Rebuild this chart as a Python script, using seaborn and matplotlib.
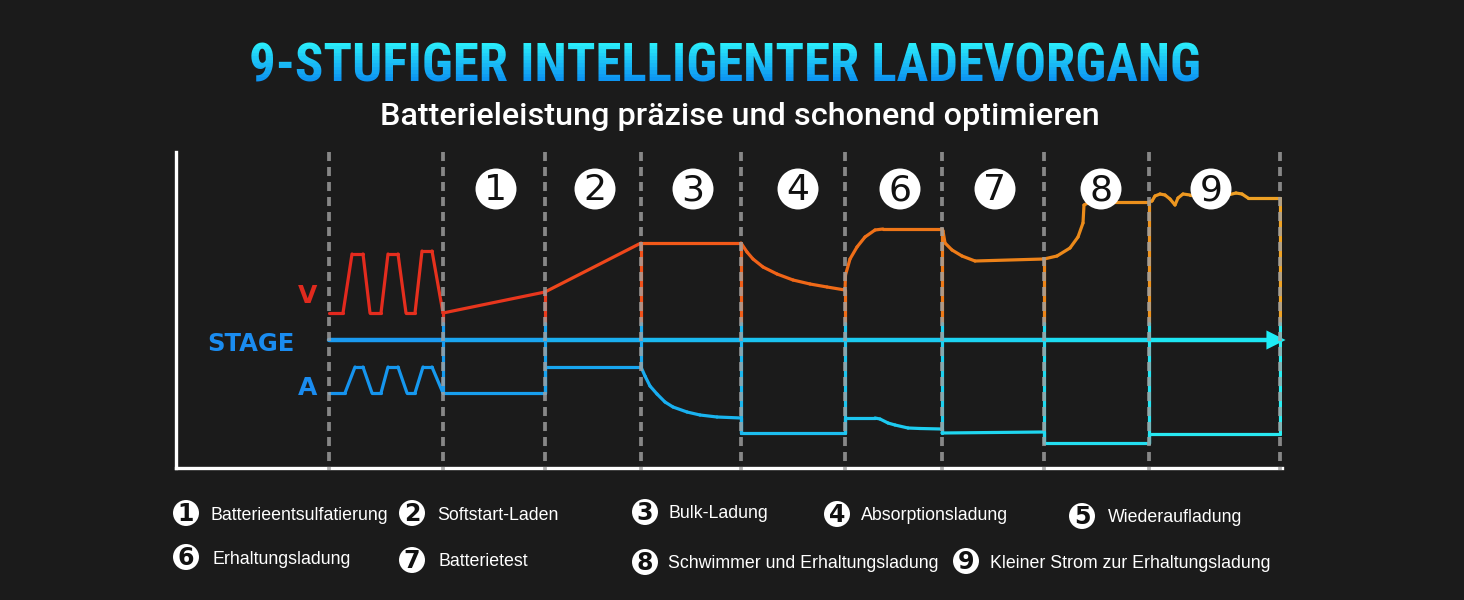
"""
9-stage charging curve (voltage / current per stage)
"""
import numpy as np
import pandas as pd
import matplotlib
matplotlib.use("Agg")
import matplotlib.pyplot as plt
import seaborn as sns
from matplotlib.colors import LinearSegmentedColormap
from matplotlib.transforms import Bbox
from matplotlib import font_manager

# ---- data (time axis read in image pixels, levels in pixels from top) ----
stage_bounds = [329, 443, 545, 641, 741, 845, 942, 1044, 1149, 1280]
stage_marks = ["1", "2", "3", "4", "6", "7", "8", "9"]

volt_x = [329, 343, 352, 363, 370, 381, 388, 398, 406, 415, 422, 432, 443,
          545, 641, 741,
          747, 753, 763, 777, 793, 810, 827, 845,
          845.5, 850, 857, 865, 875, 883, 942,
          943, 945, 952, 962, 975, 1044,
          1057, 1070, 1078, 1083, 1084, 1090, 1149,
          1152, 1155, 1160, 1165, 1170, 1175, 1178, 1183, 1190,
          1228, 1236, 1242, 1248, 1280]
volt_y = [313, 313, 254, 254, 313, 313, 254, 254, 313, 313, 251, 251, 313,
          292, 243, 243,
          252, 259, 267, 274, 280, 284, 287, 290,
          275, 259, 247, 237, 230, 229, 229,
          231, 243, 250, 256, 261, 259,
          256, 248, 237, 223, 205, 202, 202,
          201, 196, 194, 195, 199, 205, 198, 194, 195,
          195, 193, 194, 198, 198]

amp_x = [329, 345, 355, 363, 372, 381, 388, 398, 407, 415, 423, 432, 443,
         545, 545, 641, 645, 650, 657, 665, 673, 687, 700, 717,
         741, 741, 845, 845, 875, 880, 888, 895, 908, 920, 942,
         942, 1044, 1044, 1149, 1149, 1280]
amp_y = [393, 393, 367, 367, 393, 393, 367, 367, 393, 393, 367, 367, 393,
         393, 367, 367, 376, 386, 394, 402, 407, 412, 415, 417,
         418, 433, 433, 418, 418, 419, 423, 425, 428, 428.5, 429,
         433, 432, 443, 443, 434, 434]

stage_level = 340
split_level = 323

title = "9-STUFIGER INTELLIGENTER LADEVORGANG"
subtitle = "Batterieleistung präzise und schonend optimieren"

legend_nums = ["1", "2", "3", "4", "5", "6", "7", "8", "9"]
legend_labels = ["Batterieentsulfatierung", "Softstart-Laden", "Bulk-Ladung",
                 "Absorptionsladung", "Wiederaufladung", "Erhaltungsladung",
                 "Batterietest", "Schwimmer und Erhaltungsladung",
                 "Kleiner Strom zur Erhaltungsladung"]

# ---- layout ----
badge_x = [496, 595, 693, 798, 900, 995, 1101, 1211]
badge_y = 189
legend_cx = [186, 412, 645, 837, 1082, 186, 412, 645, 966]
legend_cy = [513, 513, 512, 514, 516, 557, 560, 562, 561]
legend_tx = [210, 437, 668, 861, 1108, 213, 439, 668, 990]

bg = "#1b1b1b"
sns.set_theme(style="dark", rc={
    "axes.facecolor": bg, "figure.facecolor": bg, "savefig.facecolor": bg,
    "lines.scale_dashes": False,
})
plt.rcParams["font.family"] = ["DejaVu Sans"]

available = {f.name for f in font_manager.fontManager.ttflist}
title_family = "DejaVu Sans"
for cand in ["Liberation Sans Narrow", "DejaVu Sans Condensed", "Roboto Condensed"]:
    if cand in available:
        title_family = cand
        break

volt_cmap = LinearSegmentedColormap.from_list("volt", [
    (0.0, "#e3281e"), (0.22, "#e93a1d"), (0.33, "#f4521a"), (0.5, "#f06818"),
    (0.65, "#ee7a18"), (0.8, "#ec8c1a"), (1.0, "#eea326")])
amp_cmap = LinearSegmentedColormap.from_list("amp", [
    (0.0, "#1592ee"), (0.3, "#18a8f0"), (0.5, "#1cc0f0"), (0.7, "#1fd6f0"),
    (1.0, "#2aeef2")])
stage_cmap = LinearSegmentedColormap.from_list("stage", [
    (0.0, "#1a94f0"), (0.5, "#1ac4f0"), (1.0, "#1eecf4")])
x_lo, x_hi = stage_bounds[0], stage_bounds[-1]


def seg_frame(xs, ys):
    """one row pair per segment so every segment can carry its own colour"""
    rows = []
    for i in range(len(xs) - 1):
        mid = (xs[i] + xs[i + 1]) / 2
        rows.append((xs[i], ys[i], i, mid))
        rows.append((xs[i + 1], ys[i + 1], i, mid))
    return pd.DataFrame(rows, columns=["x", "y", "seg", "pos"])


def grad_line(ax, xs, ys, cmap, lw, z):
    sns.lineplot(data=seg_frame(xs, ys), x="x", y="y", hue="pos", units="seg",
                 palette=cmap, hue_norm=(x_lo, x_hi), estimator=None, sort=False,
                 legend=False, lw=lw, solid_capstyle="round",
                 solid_joinstyle="round", zorder=z, ax=ax)


fig = plt.figure(figsize=(14.64, 6.0), dpi=100)
frame = fig.add_axes([0, 0, 1, 1])
frame.set_xlim(0, 1464)
frame.set_ylim(600, 0)
frame.axis("off")

ax = fig.add_axes([176 / 1464, 132 / 600, 1106 / 1464, 316 / 600])
ax.set_facecolor("none")

# curves
grad_line(ax, volt_x, volt_y, volt_cmap, 2.3, 3)
grad_line(ax, amp_x, amp_y, amp_cmap, 2.3, 3)
grad_line(ax, stage_bounds, [stage_level] * len(stage_bounds), stage_cmap, 3.2, 3)

# vertical connectors at each stage change
vx, vy = np.array(volt_x), np.array(volt_y)
axx, ayy = np.array(amp_x), np.array(amp_y)
for b in stage_bounds[1:]:
    t = (b - x_lo) / (x_hi - x_lo)
    top = vy[vx == b].min()
    bot = ayy[axx == b].max()
    ax.plot([b, b], [top, split_level], color=volt_cmap(t), lw=2.3, zorder=3)
    ax.plot([b, b], [split_level, bot], color=amp_cmap(t), lw=2.3, zorder=3)

sns.scatterplot(x=[1276], y=[stage_level], marker=">", s=190, color="#1eecf4",
                edgecolor="none", zorder=4, ax=ax, clip_on=False)

# dashed stage separators
ax.vlines(stage_bounds, 152, 470, colors="#a0a0a0", alpha=0.82, lw=2.7,
          linestyles=(0, (6.5, 4.3)), zorder=4, clip_on=False)

# stage badges
sns.scatterplot(x=badge_x, y=[badge_y] * len(badge_x), s=870, color="white",
                edgecolor="none", zorder=5, ax=ax)
for bx, m in zip(badge_x, stage_marks):
    ax.text(bx, badge_y + 1, m, ha="center", va="center", fontsize=26,
            color="#111111", zorder=6)

ax.text(295, 344, "STAGE", ha="right", va="center", fontsize=17.5, fontweight="bold",
        color="#1a8cf0")
ax.text(308, 296, "V", ha="center", va="center", fontsize=18, fontweight="bold",
        color="#e02a1e")
ax.text(308, 388, "A", ha="center", va="center", fontsize=18, fontweight="bold",
        color="#1a8cf0")

ax.set_xlim(176, 1282)
ax.set_ylim(468, 152)
ax.set_xticks([])
ax.set_yticks([])
ax.set_xlabel("")
ax.set_ylabel("")
ax.spines["top"].set_visible(False)
ax.spines["right"].set_visible(False)
for side in ("left", "bottom"):
    ax.spines[side].set_visible(True)
    ax.spines[side].set_color("white")
    ax.spines[side].set_linewidth(2.4)

# title with vertical gradient (stacked clipped copies)
fig.canvas.draw()
renderer = fig.canvas.get_renderer()
probe = frame.text(725, 82, title, fontsize=40, fontweight="bold",
                   family=[title_family, "DejaVu Sans"], ha="center", va="baseline")
tw = probe.get_window_extent(renderer).width
title_fs = 40 * 950 / tw
probe.remove()

n_band = 12
band_cols = sns.blend_palette(["#2aecfa", "#0a8cf0"], n_colors=n_band)
edges = np.linspace(42, 84, n_band + 1)
for k, c in enumerate(band_cols):
    y0 = 0 if k == 0 else edges[k]
    y1 = 100 if k == n_band - 1 else edges[k + 1]
    t = frame.text(725, 82, title, fontsize=title_fs, fontweight="bold",
                   family=[title_family, "DejaVu Sans"], color=c,
                   ha="center", va="baseline")
    t.set_clip_path(None)
    t.set_clip_box(Bbox.from_extents(0, 600 - y1, 1464, 600 - y0))
    t.set_clip_on(True)

sub = frame.text(740, 125, subtitle, fontsize=22, fontweight="medium",
                 family=["Roboto", "DejaVu Sans"], color="white",
                 ha="center", va="baseline")
sw = sub.get_window_extent(renderer).width
sub.set_fontsize(22 * 720 / sw)

# legend
sns.scatterplot(x=legend_cx, y=legend_cy, s=350, color="white", edgecolor="none",
                ax=frame, zorder=3)
for cx, cy, tx, num, lab in zip(legend_cx, legend_cy, legend_tx,
                                legend_nums, legend_labels):
    frame.text(cx, cy + 1, num, ha="center", va="center", fontsize=17,
               fontweight="bold", color="#111111", zorder=4)
    frame.text(tx, cy + 6.5, lab, ha="left", va="baseline", fontsize=12.8,
               family=["Liberation Sans", "DejaVu Sans"], color="white")
frame.set_xlim(0, 1464)
frame.set_ylim(600, 0)

fig.savefig("out.png", dpi=100)
